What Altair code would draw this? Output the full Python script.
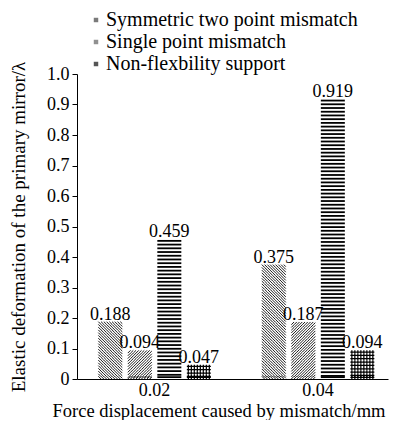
import altair as alt
import pandas as pd
import numpy as np

# ---------------- data ----------------
groups = ["0.02", "0.04"]
series = [
    "Symmetric two point mismatch",
    "Single point mismatch",
    "Non-flexbility support",
    "Flexible support",
]
values_002 = [0.188, 0.094, 0.459, 0.047]
values_004 = [0.375, 0.187, 0.919, 0.094]
y_ticks = [0, 0.1, 0.2, 0.3, 0.4, 0.5, 0.6, 0.7, 0.8, 0.9, 1.0]

x_title = "Force displacement caused by mismatch/mm"
y_title = "Elastic deformation of the primary mirror/\u03bb"

# ---------------- style ----------------
FONT = "Liberation Serif"
PLOT_W, PLOT_H = 311, 305
BAR_W = 24
R = BAR_W / 2.0  # px per path unit
PX_PER_UNIT = PLOT_H / 1.0

steps = [0.009, 0.009, 0.0122, 0.011]      # strip height (data units) per pattern
widths = [0.9, 0.9, 1.8, 1.25]              # stroke width per pattern
legend_fill = ["#7a7a7a", "#909090", "#555555", "#333333"]


def half_h(step):
    return (step * PX_PER_UNIT / 2.0) / R


def diag_path(step, forward):
    hh = half_h(step)
    segs = []
    x0 = -1 - 2 * hh
    while x0 < 1:
        xa, xb = max(x0, -1.0), min(x0 + 2 * hh, 1.0)
        if xb > xa:
            if forward:
                ya, yb = hh - (xa - x0), hh - (xb - x0)
            else:
                ya, yb = -hh + (xa - x0), -hh + (xb - x0)
            segs.append(f"M{xa:.4f},{ya:.4f}L{xb:.4f},{yb:.4f}")
        x0 += 2 * hh
    return "".join(segs)


def grid_path(step):
    hh = half_h(step)
    pv = 3.0 / R
    p = "M-1,0L1,0"
    x = -1 + pv / 2
    while x < 1:
        p += f"M{x:.4f},{-hh:.4f}L{x:.4f},{hh:.4f}"
        x += pv
    return p


paths = [
    diag_path(steps[0], False),
    diag_path(steps[1], True),
    "M-1,0L1,0",
    grid_path(steps[3]),
]

# ---------------- tables ----------------
bars = pd.DataFrame(
    [
        {"group": g, "series": s, "value": v}
        for g, vals in zip(groups, [values_002, values_004])
        for s, v in zip(series, vals)
    ]
)

rows = []
for g, vals in zip(groups, [values_002, values_004]):
    for i, (s, v) in enumerate(zip(series, vals)):
        st = steps[i]
        k = 0
        while v - (k + 1) * st >= -1e-9:
            rows.append({"group": g, "series": s, "value": v - (k + 0.5) * st})
            k += 1
        if v - k * st > 1e-6:
            rows.append({"group": g, "series": s, "value": st / 2})
tiles = pd.DataFrame(rows)

x_enc = alt.X(
    "group:N",
    sort=groups,
    scale=alt.Scale(domain=groups, paddingInner=0.278, paddingOuter=0.09, align=0.63),
    axis=alt.Axis(
        labelAngle=0,
        ticks=False,
        labelPadding=2,
        labelFontSize=18,
        title=x_title,
        titleFontSize=18.5,
        titlePadding=2,
        titleAnchor="start",
        titleAlign="left",
        titleX=-25,
    ),
)
xo_enc = alt.XOffset(
    "series:N", sort=series, scale=alt.Scale(domain=series, paddingInner=0, paddingOuter=0)
)
y_enc = alt.Y(
    "value:Q",
    scale=alt.Scale(domain=[0, 1], nice=False, zero=True),
    axis=alt.Axis(
        values=y_ticks,
        labelExpr="datum.value == 0 ? '0' : format(datum.value, '.1f')",
        labelFontSize=18,
        labelPadding=3,
        labelOverlap=False,
        tickSize=5,
        grid=False,
        title=y_title,
        titleFontSize=19,
        titlePadding=18,
    ),
)

base_bar = alt.Chart(bars).mark_bar(width=BAR_W, opacity=0).encode(
    x=x_enc,
    xOffset=xo_enc,
    y=y_enc,
    fill=alt.Fill(
        "series:N",
        sort=series,
        scale=alt.Scale(domain=series, range=legend_fill),
        legend=alt.Legend(
            title=None,
            orient="none",
            legendX=9,
            legendY=-64,
            values=series[:3],
            symbolType="square",
            symbolSize=20,
            symbolStrokeWidth=0,
            symbolOpacity=1,
            labelFontSize=20,
            labelOffset=0,
            rowPadding=2,
            padding=0,
            labelLimit=400,
        ),
    ),
)

layers = [base_bar]
for i, s in enumerate(series):
    layers.append(
        alt.Chart(tiles)
        .transform_filter(alt.datum.series == s)
        .mark_point(
            shape=paths[i],
            size=BAR_W * BAR_W,
            filled=False,
            stroke="black",
            strokeWidth=widths[i],
            opacity=1,
            strokeCap="butt",
        )
        .encode(x=x_enc, xOffset=xo_enc, y=y_enc)
    )

labels = alt.Chart(bars).mark_text(
    font=FONT, fontSize=18, color="black", baseline="alphabetic", dy=-2
).encode(
    x=x_enc,
    xOffset=xo_enc,
    y=y_enc,
    text=alt.Text("value:Q", format=".3f"),
)
layers.append(labels)

chart = (
    alt.layer(*layers)
    .properties(
        width=PLOT_W,
        height=PLOT_H,
        autosize=alt.AutoSizeParams(type="none"),
        padding={"left": 69, "top": 66, "right": 8, "bottom": 41},
        background="white",
    )
    .configure(font=FONT)
    .configure_view(stroke=None)
    .configure_axis(
        labelFont=FONT,
        titleFont=FONT,
        labelColor="black",
        titleColor="black",
        titleFontWeight="normal",
        domainColor="black",
        tickColor="black",
    )
    .configure_legend(labelFont=FONT, labelColor="black")
)

chart.save("out.html", embed_options={"renderer": "svg", "actions": False})
